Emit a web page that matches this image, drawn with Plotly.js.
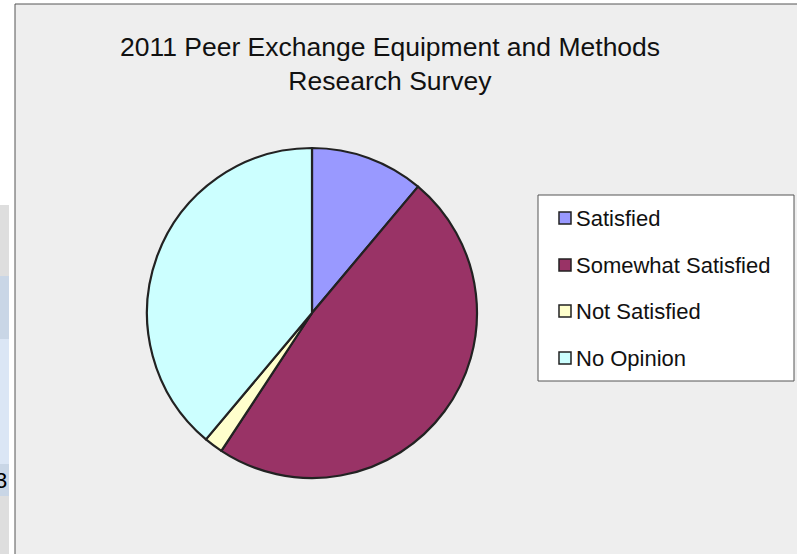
<!DOCTYPE html>
<html>
<head>
<meta charset="utf-8">
<script src="https://cdn.plot.ly/plotly-3.0.1.min.js"></script>
<style>html,body{margin:0;padding:0;background:#fff;}#chart{width:797px;height:554px;}</style>
</head>
<body>
<div id="chart"></div>
<script>
const chartTitle = "2011 Peer Exchange Equipment and Methods<br>Research Survey";
const labels = ["Satisfied", "Somewhat Satisfied", "Not Satisfied", "No Opinion"];
const values = [6, 26, 1, 21];
const colors = ["#9999FF", "#993366", "#FFFFCC", "#CCFFFF"];

const W = 797, H = 554;
const px = x => x / W;
const py = y => 1 - y / H;

const shapes = [];
const annotations = [];

// left strip (partial neighbouring table)
const bands = [[205, 276, "#dedede"], [276, 339, "#c9d6e6"], [339, 464, "#dbe6f5"], [464, 496, "#c9d6e6"], [496, 560, "#dedede"]];
bands.forEach(b => shapes.push({type: "rect", xref: "paper", yref: "paper", layer: "below",
  x0: px(0), x1: px(9), y0: py(b[1]), y1: py(b[0]), fillcolor: b[2], line: {width: 0}}));
annotations.push({xref: "paper", yref: "paper", x: px(9), y: py(480), xanchor: "right", yanchor: "middle",
  text: "3", showarrow: false, font: {family: "Liberation Sans, Arial", size: 22, color: "#000"}});

// chart area
shapes.push({type: "rect", xref: "paper", yref: "paper", layer: "below",
  x0: px(15), x1: px(810), y0: py(570), y1: py(4), fillcolor: "#eeeeee", line: {color: "#555", width: 1}});

// legend box
shapes.push({type: "rect", xref: "paper", yref: "paper", layer: "above",
  x0: px(538), x1: px(794), y0: py(381), y1: py(195), fillcolor: "#ffffff", line: {color: "#555", width: 1}});
const itemY = [218, 265, 311, 358];
labels.forEach((lab, i) => {
  const y = itemY[i];
  shapes.push({type: "rect", xref: "paper", yref: "paper", layer: "above",
    x0: px(559), x1: px(571), y0: py(y + 6), y1: py(y - 6), fillcolor: colors[i], line: {color: "#222", width: 1.5}});
  annotations.push({xref: "paper", yref: "paper", x: px(574), y: py(y), xanchor: "left", yanchor: "middle",
    text: lab, showarrow: false, font: {family: "Liberation Sans, Arial", size: 22, color: "#111"}});
});

const data = [{
  type: "pie",
  labels: labels,
  values: values,
  sort: false,
  direction: "clockwise",
  rotation: 0,
  marker: {colors: colors, line: {color: "#222", width: 2.2}},
  textinfo: "none",
  hoverinfo: "label+value+percent",
  showlegend: false,
  domain: {x: [px(147), px(477)], y: [py(478), py(148)]}
}];

const layout = {
  width: W, height: H,
  margin: {l: 0, r: 0, t: 0, b: 0},
  paper_bgcolor: "#ffffff",
  showlegend: false,
  title: {text: chartTitle, x: px(390), xanchor: "center", y: py(56), yanchor: "middle",
    font: {family: "Liberation Sans, Arial", size: 26.5, color: "#111"}},
  shapes: shapes,
  annotations: annotations
};

Plotly.newPlot("chart", data, layout, {displayModeBar: false, staticPlot: true});
</script>
</body>
</html>
